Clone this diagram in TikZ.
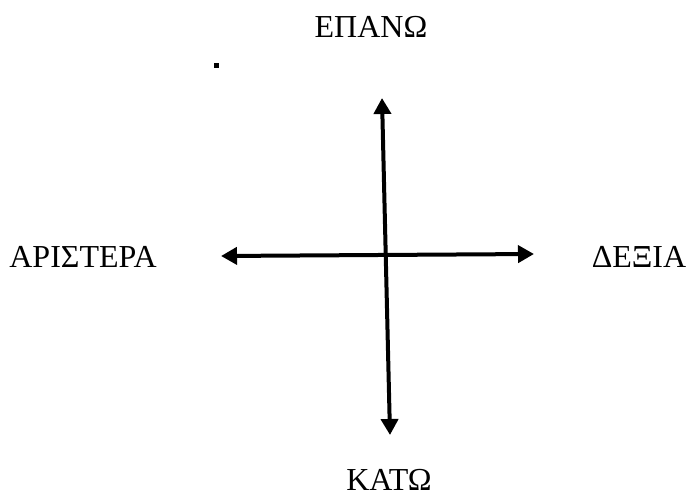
\documentclass[tikz,border=0pt]{standalone}
\usepackage{fontspec}
\setmainfont{Liberation Serif}
\usetikzlibrary{arrows.meta}
\begin{document}
\begin{tikzpicture}[x=1pt,y=-1pt,
  lbl/.style={font=\fontsize{32}{38}\selectfont, anchor=base, inner sep=0pt},
  dir/.style={line width=4pt, {Triangle[length=16pt,width=17pt]}-{Triangle[length=16pt,width=17pt]}}]
\useasboundingbox (0,0) rectangle (688,498);
\node[lbl] (up) at (371,37) {ΕΠΑΝΩ};
\node[lbl] (left) at (83,267) {ΑΡΙΣΤΕΡΑ};
\node[lbl] (right) at (639,267) {ΔΕΞΙΑ};
\node[lbl] (down) at (389,490) {ΚΑΤΩ};
\coordinate (vt) at (382,98);
\coordinate (vb) at (390,435);
\coordinate (hl) at (221,256);
\coordinate (hr) at (534,254);
\draw[dir] (vt) -- (vb);
\draw[dir] (hl) -- (hr);
\node[fill=black, minimum size=5pt, inner sep=0pt] (dot) at (216.5,65.5) {};
\end{tikzpicture}
\end{document}
